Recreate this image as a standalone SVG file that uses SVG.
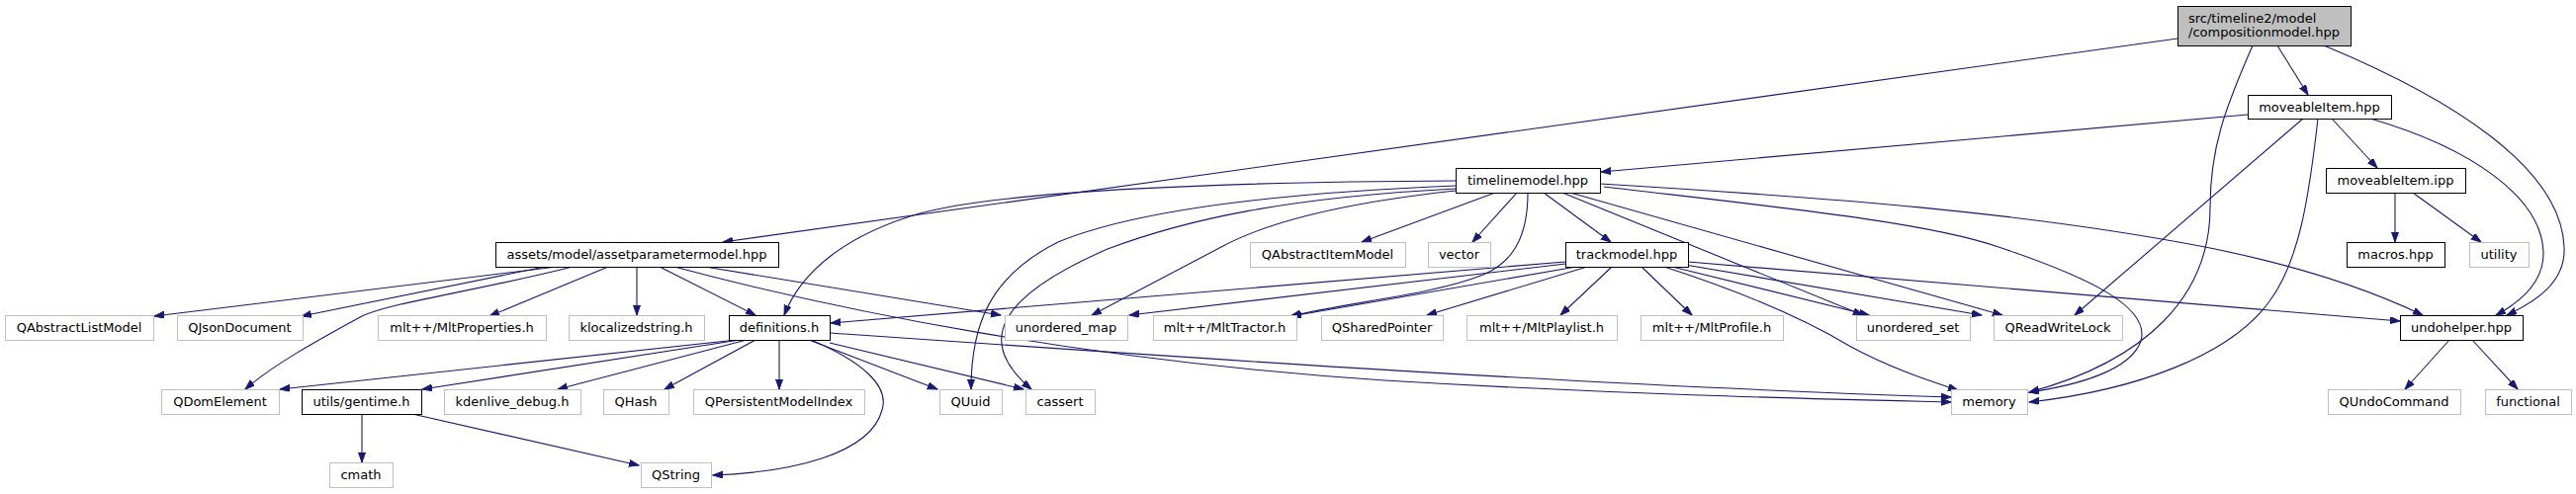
<svg xmlns="http://www.w3.org/2000/svg" width="2605" height="500" viewBox="0 0 2605 500">
<defs>
<marker id="ah" markerUnits="userSpaceOnUse" markerWidth="11" markerHeight="8" refX="10" refY="3.5" orient="auto">
<path d="M0,0 L10,3.5 L0,7 z" fill="#191970" stroke="#191970" stroke-width="1"/>
</marker>
</defs>
<style>
text{font-family:"DejaVu Sans",sans-serif;font-size:13px;text-anchor:middle;fill:#000}
.n rect{fill:#fff;stroke:#000;stroke-width:1}
.g rect{fill:#fff;stroke:#bfbfbf;stroke-width:1}
.r rect{fill:#bfbfbf;stroke:#000;stroke-width:1}
.r text{text-anchor:start}
#edges path{fill:none;stroke:#191970;stroke-width:1.1;marker-end:url(#ah)}
</style>
<rect width="2605" height="500" fill="#fff"/>
<g id="edges">
<path d="M2202,39 L731,245"/>
<path d="M2303,46 L2334,96"/>
<path d="M2278,46 C2250,110 2235,150 2235,210 C2235,300 2170,365 2052,397"/>
<path d="M2350,46 C2480,100 2590,170 2593,250 C2595,285 2565,305 2535,319"/>
<path d="M2273,116 L1619,174"/>
<path d="M2329,120 L2098,319"/>
<path d="M2344,120 C2335,200 2325,265 2295,305 C2255,360 2160,395 2052,407"/>
<path d="M2358,120 L2404,170"/>
<path d="M2397,120 C2500,150 2570,200 2572,255 C2573,285 2550,305 2524,319"/>
<path d="M2422,195 L2422,245"/>
<path d="M2440,195 L2509,245"/>
<path d="M1472,183 C1250,184 1020,192 930,216 C855,238 810,275 793,319"/>
<path d="M1472,188 C1300,195 1150,212 1070,245 C1000,280 982,330 982,394"/>
<path d="M1472,191 C1300,200 1200,222 1120,252 C1010,300 985,345 1043,394"/>
<path d="M1472,193 C1380,203 1290,220 1235,250 L1104,319"/>
<path d="M1512,195 L1377,245"/>
<path d="M1534,195 L1489,245"/>
<path d="M1545,195 C1545,240 1530,265 1500,278 C1450,298 1370,305 1305,320"/>
<path d="M1561,195 L1629,245"/>
<path d="M1580,195 L1884,319"/>
<path d="M1588,195 L2025,319"/>
<path d="M1618,186 C1850,200 2050,215 2230,250 C2330,270 2400,295 2450,319"/>
<path d="M1622,189 C1800,210 1950,225 2021,250 C2110,280 2175,310 2165,345 C2155,375 2100,390 2052,397"/>
<path d="M1583,265 L840,327"/>
<path d="M1583,267 L1142,319"/>
<path d="M1594,270 L1306,320"/>
<path d="M1605,270 L1443,319"/>
<path d="M1630,270 L1578,319"/>
<path d="M1660,270 L1711,319"/>
<path d="M1691,270 L1890,319"/>
<path d="M1683,270 C1760,295 1820,320 1870,350 C1910,372 1950,385 1980,395"/>
<path d="M1707,265 L2427,325"/>
<path d="M1704,268 L2004,319"/>
<path d="M563,270 L156,320"/>
<path d="M551,270 L305,320"/>
<path d="M579,270 C480,295 400,305 366,320 C320,345 275,370 248,394"/>
<path d="M615,270 L495,320"/>
<path d="M644,270 L644,319"/>
<path d="M667,270 L764,319"/>
<path d="M682,270 C850,315 1100,365 1400,385 C1650,400 1850,404 1973,407"/>
<path d="M713,270 L1012,319"/>
<path d="M745,344 L283,394"/>
<path d="M748,344 L427,394"/>
<path d="M755,344 L564,394"/>
<path d="M764,344 L672,394"/>
<path d="M788,344 L788,394"/>
<path d="M818,344 L948,394"/>
<path d="M839,347 L1035,394"/>
<path d="M820,344 C870,365 900,390 892,415 C880,460 800,478 721,481"/>
<path d="M839,337 C1200,362 1600,390 1973,402"/>
<path d="M366,419 L366,468"/>
<path d="M417,419 L646,471"/>
<path d="M2477,344 L2432,394"/>
<path d="M2500,344 L2546,394"/>
</g>
<g id="comp" class="r"><rect x="2202.5" y="6.5" width="175" height="40"/><text x="2213" y="22.5">src/timeline2/model</text><text x="2213" y="36.5">/compositionmodel.hpp</text></g>
<g id="mov" class="n"><rect x="2273.5" y="96.5" width="145" height="24"/><text x="2345.5" y="112.5">moveableItem.hpp</text></g>
<g id="ipp" class="n"><rect x="2352.5" y="170.5" width="141" height="25"/><text x="2422.5" y="187">moveableItem.ipp</text></g>
<g id="tl" class="n"><rect x="1472.5" y="170.5" width="146" height="25"/><text x="1545" y="187">timelinemodel.hpp</text></g>
<g id="assets" class="n"><rect x="501.5" y="245.5" width="286" height="25"/><text x="644" y="262">assets/model/assetparametermodel.hpp</text></g>
<g id="qaim" class="g"><rect x="1264.5" y="245.5" width="157" height="25"/><text x="1342.5" y="262">QAbstractItemModel</text></g>
<g id="vector" class="g"><rect x="1444.5" y="245.5" width="63" height="25"/><text x="1475.5" y="262">vector</text></g>
<g id="track" class="n"><rect x="1583.5" y="245.5" width="124" height="25"/><text x="1645" y="262">trackmodel.hpp</text></g>
<g id="macros" class="n"><rect x="2373.5" y="245.5" width="99" height="25"/><text x="2422.5" y="262">macros.hpp</text></g>
<g id="utility" class="g"><rect x="2497.5" y="245.5" width="60" height="25"/><text x="2527" y="262">utility</text></g>
<g id="qalm" class="g"><rect x="5.5" y="319.5" width="150" height="25"/><text x="80" y="336">QAbstractListModel</text></g>
<g id="qjson" class="g"><rect x="179.5" y="319.5" width="127" height="25"/><text x="242.5" y="336">QJsonDocument</text></g>
<g id="mltprop" class="g"><rect x="382.5" y="319.5" width="170" height="25"/><text x="467" y="336">mlt++/MltProperties.h</text></g>
<g id="kloc" class="g"><rect x="575.5" y="319.5" width="137" height="25"/><text x="643.5" y="336">klocalizedstring.h</text></g>
<g id="defs" class="n"><rect x="737.5" y="319.5" width="102" height="25"/><text x="788" y="336">definitions.h</text></g>
<g id="umap" class="g"><rect x="1016.5" y="319.5" width="124" height="25"/><text x="1078" y="336">unordered_map</text></g>
<g id="tractor" class="g"><rect x="1166.5" y="319.5" width="145" height="25"/><text x="1238.5" y="336">mlt++/MltTractor.h</text></g>
<g id="qsp" class="g"><rect x="1336.5" y="319.5" width="123" height="25"/><text x="1397.5" y="336">QSharedPointer</text></g>
<g id="playlist" class="g"><rect x="1483.5" y="319.5" width="152" height="25"/><text x="1559" y="336">mlt++/MltPlaylist.h</text></g>
<g id="profile" class="g"><rect x="1659.5" y="319.5" width="144" height="25"/><text x="1731" y="336">mlt++/MltProfile.h</text></g>
<g id="uset" class="g"><rect x="1877.5" y="319.5" width="115" height="25"/><text x="1934.5" y="336">unordered_set</text></g>
<g id="qrwl" class="g"><rect x="2016.5" y="319.5" width="130" height="25"/><text x="2081" y="336">QReadWriteLock</text></g>
<g id="undo" class="n"><rect x="2427.5" y="319.5" width="124" height="25"/><text x="2489" y="336">undohelper.hpp</text></g>
<g id="qdom" class="g"><rect x="163.5" y="394.5" width="119" height="25"/><text x="222.5" y="411">QDomElement</text></g>
<g id="gentime" class="n"><rect x="305.5" y="394.5" width="121" height="25"/><text x="365.5" y="411">utils/gentime.h</text></g>
<g id="kdebug" class="g"><rect x="449.5" y="394.5" width="138" height="25"/><text x="518" y="411">kdenlive_debug.h</text></g>
<g id="qhash" class="g"><rect x="610.5" y="394.5" width="66" height="25"/><text x="643" y="411">QHash</text></g>
<g id="qpmi" class="g"><rect x="701.5" y="394.5" width="173" height="25"/><text x="787.5" y="411">QPersistentModelIndex</text></g>
<g id="quuid" class="g"><rect x="950.5" y="394.5" width="63" height="25"/><text x="981.5" y="411">QUuid</text></g>
<g id="cassert" class="g"><rect x="1037.5" y="394.5" width="70" height="25"/><text x="1072" y="411">cassert</text></g>
<g id="memory" class="g"><rect x="1973.5" y="394.5" width="77" height="25"/><text x="2011.5" y="411">memory</text></g>
<g id="qundo" class="g"><rect x="2354.5" y="394.5" width="134" height="25"/><text x="2421" y="411">QUndoCommand</text></g>
<g id="functional" class="g"><rect x="2513.5" y="394.5" width="87" height="25"/><text x="2556.5" y="411">functional</text></g>
<g id="cmath" class="g"><rect x="333.5" y="468.5" width="64" height="25"/><text x="365" y="485">cmath</text></g>
<g id="qstring" class="g"><rect x="648.5" y="468.5" width="71" height="25"/><text x="683.5" y="485">QString</text></g>
</svg>
